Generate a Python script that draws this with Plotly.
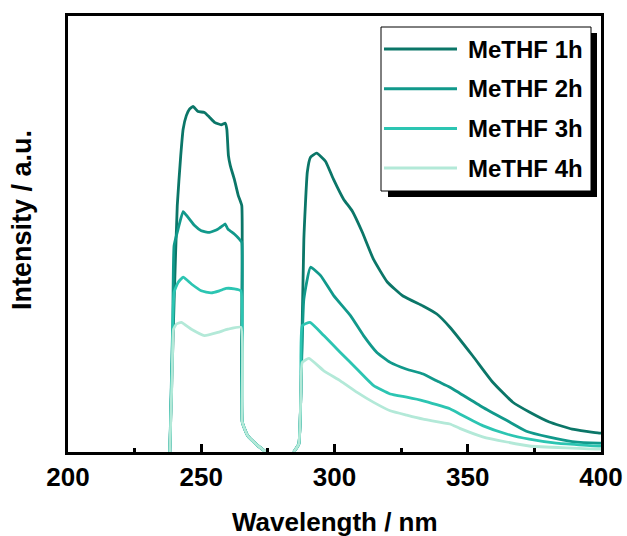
import plotly.graph_objects as go

# Emission spectra of MeTHF samples (two excitation windows, separated by None)
series_names = ["MeTHF 1h", "MeTHF 2h", "MeTHF 3h", "MeTHF 4h"]
series_colors = ["#0b7668", "#11998b", "#2cc5b2", "#b3e9d8"]

wl_1h = [238.2, 239.8, 241.0, 242.3, 243.2, 244.4, 245.6, 246.9, 248.8, 251.2, 253.1, 255.0,
         257.5, 259.0, 259.6, 260.2, 260.9, 262.4, 263.9, 265.2, 265.4, 267.4, 271.2, 274.3,
         None,
         284.7, 286.6, 287.4, 288.5, 289.8, 291.0, 293.3, 296.6, 299.6, 303.4, 306.7, 310.4,
         314.6, 319.8, 325.7, 333.2, 338.4, 343.3, 351.9, 359.3, 366.8, 373.1, 380.6, 389.2,
         399.3, 400.0]
int_1h = [0, 374, 616, 741, 807, 841, 857, 864, 851, 849, 837, 824,
          818, 822, 807, 741, 716, 682, 641, 616, 75, 41, 16, 0,
          None,
          0, 20, 150, 532, 700, 737, 747, 727, 682, 632, 602, 550,
          482, 425, 390, 365, 345, 312, 240, 175, 125, 100, 75, 57,
          47, 47]

wl_2h = [238.2, 239.3, 239.8, 241.3, 243.2, 245.0, 247.5, 250.0, 253.1, 256.2, 258.1, 259.0,
         260.0, 262.4, 264.3, 265.2, 265.4, 267.4, 271.2, 274.3,
         None,
         284.7, 286.6, 287.4, 288.5, 291.0, 294.8, 299.7, 306.0, 310.9, 315.9, 320.9, 327.1,
         333.3, 338.3, 343.3, 347.0, 355.6, 365.7, 372.0, 380.6, 389.2, 399.3, 400.0]
int_2h = [0, 324, 516, 557, 601, 587, 566, 553, 549, 557, 566, 570,
          557, 545, 532, 524, 75, 41, 16, 0,
          None,
          0, 20, 150, 382, 462, 441, 391, 341, 291, 249, 224, 207,
          195, 178, 162, 147, 112, 75, 52, 37, 26, 22, 22]

wl_3h = [238.2, 239.1, 239.8, 241.3, 243.2, 246.3, 250.0, 253.7, 256.8, 259.3, 262.4, 264.9,
         265.4, 267.4, 271.2, 274.3,
         None,
         284.7, 286.6, 287.4, 287.9, 290.8, 296.0, 302.2, 308.5, 314.7, 320.9, 327.1, 333.3,
         343.3, 347.0, 355.6, 364.6, 373.1, 383.2, 399.3, 400.0]
int_3h = [0, 241, 399, 424, 437, 420, 403, 398, 403, 409, 408, 403,
          75, 41, 16, 0,
          None,
          0, 20, 150, 316, 324, 291, 249, 207, 166, 145, 137, 128,
          108, 95, 66, 45, 32, 22, 15, 15]

wl_4h = [238.2, 239.1, 239.6, 240.7, 242.5, 246.3, 251.2, 256.2, 260.0, 264.9, 265.4, 267.4,
         271.2, 274.3,
         None,
         284.7, 286.6, 287.4, 287.9, 290.4, 296.0, 302.2, 308.5, 314.7, 320.9, 327.1, 333.3,
         343.3, 347.0, 355.6, 364.6, 373.1, 399.3, 400.0]
int_4h = [0, 199, 307, 320, 324, 307, 291, 299, 307, 312, 75, 41,
          16, 0,
          None,
          0, 20, 150, 224, 234, 203, 178, 149, 124, 103, 92, 82,
          70, 59, 38, 25, 15, 7, 7]

x_ticks = [200, 250, 300, 350, 400]
x_tick_labels = ["200", "250", "300", "350", "400"]

wavelengths = [wl_1h, wl_2h, wl_3h, wl_4h]
intensities = [int_1h, int_2h, int_3h, int_4h]

W, H = 627, 536
ML, MR, MT, MB = 68, 26, 16, 84
FONT = "Arial, Liberation Sans, sans-serif"


def px(xp):
    return (xp - ML) / (W - ML - MR)


def py(yp):
    return (H - MB - yp) / (H - MT - MB)


fig = go.Figure()
for name, color, xs, ys in zip(series_names, series_colors, wavelengths, intensities):
    fig.add_trace(go.Scatter(x=xs, y=ys, name=name, mode="lines",
                             line=dict(color=color, width=2.8, shape="spline", smoothing=0.4),
                             connectgaps=False, showlegend=False))

shapes = []
annotations = []

# legend: drop shadow, framed box, sample lines and labels
shapes.append(dict(type="rect", xref="paper", yref="paper",
                   x0=px(388), x1=px(597), y0=py(197), y1=py(33),
                   fillcolor="black", line=dict(width=0), layer="above"))
shapes.append(dict(type="rect", xref="paper", yref="paper",
                   x0=px(381), x1=px(591), y0=py(191), y1=py(27),
                   fillcolor="white", line=dict(color="black", width=1), layer="above"))
for i, (name, color) in enumerate(zip(series_names, series_colors)):
    yc = 49 + i * 39.7
    shapes.append(dict(type="line", xref="paper", yref="paper",
                       x0=px(384), x1=px(457), y0=py(yc), y1=py(yc),
                       line=dict(color=color, width=3), layer="above"))
    annotations.append(dict(xref="paper", yref="paper", x=px(466), y=py(yc),
                            xanchor="left", yanchor="middle", showarrow=False,
                            text="<b>" + name + "</b>",
                            font=dict(family=FONT, size=24, color="black")))

# axis titles
annotations.append(dict(xref="paper", yref="paper", x=px(335), y=py(522),
                        xanchor="center", yanchor="middle", showarrow=False,
                        text="<b>Wavelength / nm</b>",
                        font=dict(family=FONT, size=26, color="black")))
annotations.append(dict(xref="paper", yref="paper", x=px(22), y=py(220),
                        xanchor="center", yanchor="middle", showarrow=False,
                        textangle=-90, text="<b>Intensity / a.u.</b>",
                        font=dict(family=FONT, size=27, color="black")))

fig.update_layout(
    width=W, height=H,
    margin=dict(l=ML, r=MR, t=MT, b=MB, autoexpand=False),
    paper_bgcolor="white", plot_bgcolor="white",
    showlegend=False,
    shapes=shapes, annotations=annotations,
    xaxis=dict(range=[200, 400], tickvals=x_ticks, ticktext=x_tick_labels,
               automargin=False,
               ticks="inside", ticklen=8, tickwidth=3, tickcolor="black",
               minor=dict(dtick=25, tick0=200, ticks="inside", ticklen=4,
                          tickwidth=3, tickcolor="black"),
               showline=True, linewidth=3, linecolor="black", mirror=True,
               showgrid=False, zeroline=False,
               tickfont=dict(family=FONT, size=26, color="black", weight="bold")),
    yaxis=dict(range=[0, 1090], showticklabels=False, ticks="", automargin=False,
               showline=True, linewidth=3, linecolor="black", mirror=True,
               showgrid=False, zeroline=False),
)

fig.write_html("out.html")
